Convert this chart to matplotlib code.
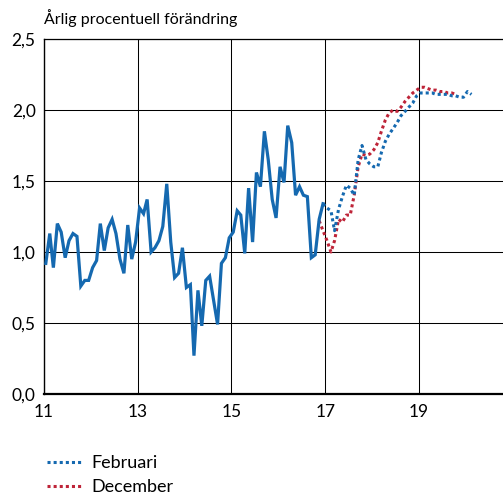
import matplotlib
matplotlib.use("Agg")
import matplotlib.pyplot as plt
import matplotlib.dates as mdates
from matplotlib.ticker import FuncFormatter
import pandas as pd

plt.rcParams['font.family'] = ['Lato', 'DejaVu Sans']

# utfall, månadsvärden från jan 2011
utfall = [0.92, 1.13, 0.89, 1.20, 1.14, 0.96, 1.08, 1.13, 1.11, 0.76,
          0.80, 0.80, 0.89, 0.94, 1.20, 1.01, 1.17, 1.23, 1.13, 0.95,
          0.85, 1.19, 0.95, 1.07, 1.31, 1.27, 1.37, 1.00, 1.03, 1.08,
          1.18, 1.48, 1.07, 0.82, 0.85, 1.03, 0.75, 0.77, 0.27, 0.73,
          0.48, 0.80, 0.83, 0.66, 0.49, 0.92, 0.96, 1.10, 1.14, 1.29,
          1.26, 0.99, 1.45, 1.07, 1.56, 1.46, 1.85, 1.65, 1.37, 1.24,
          1.60, 1.49, 1.89, 1.77, 1.40, 1.46, 1.40, 1.39, 0.96, 0.98,
          1.23, 1.34]
utfall_start = "2011-01"

# prognos februari, från dec 2016
februari = [1.34, 1.31, 1.29, 1.15, 1.30, 1.39, 1.47, 1.45, 1.40, 1.65,
            1.75, 1.65, 1.62, 1.60, 1.60, 1.70, 1.78, 1.83, 1.87, 1.91,
            1.96, 1.99, 2.02, 2.05, 2.10, 2.12, 2.12, 2.12, 2.12, 2.11,
            2.11, 2.11, 2.11, 2.10, 2.10, 2.09, 2.09, 2.13, 2.11]
februari_start = "2016-12"

# prognos december, från nov 2016
december = [1.22, 1.15, 1.08, 1.00, 1.08, 1.23, 1.21, 1.26, 1.26, 1.40,
            1.60, 1.69, 1.68, 1.69, 1.72, 1.77, 1.85, 1.93, 1.98, 2.00,
            1.99, 2.02, 2.06, 2.09, 2.12, 2.14, 2.16, 2.16, 2.15, 2.14,
            2.14, 2.13, 2.13, 2.12, 2.12, 2.11]
december_start = "2016-11"

yticks = [0.0, 0.5, 1.0, 1.5, 2.0, 2.5]
xtick_years = [2011, 2013, 2015, 2017, 2019]

blue = "#1569b0"
red = "#be2438"

def months(start, n):
    # mitten av varje månad
    return pd.date_range(start, periods=n, freq="MS") + pd.Timedelta(days=14)

fig = plt.figure(figsize=(5.03, 4.94), dpi=100)
ax = fig.add_axes([44 / 503, 100 / 494, 459 / 503, 355 / 494])

ax.plot(months(december_start, len(december)), december, color=red,
        lw=2.2, linestyle=(0, (1, 1)), label="December", zorder=3)
ax.plot(months(februari_start, len(februari)), februari, color=blue,
        lw=2.2, linestyle=(0, (1, 1)), label="Februari", zorder=4)
ax.plot(months(utfall_start, len(utfall)), utfall, color=blue,
        lw=2.3, solid_joinstyle="miter", zorder=5)

ax.set_ylim(0, 2.5)
ax.set_xlim(pd.Timestamp("2011-01-01"), pd.Timestamp("2020-10-18"))
ax.set_yticks(yticks)
ax.yaxis.set_major_formatter(FuncFormatter(lambda v, p: f"{v:.1f}".replace(".", ",")))
ax.set_xticks([pd.Timestamp(f"{y}-01-01") for y in xtick_years])
ax.xaxis.set_major_formatter(mdates.DateFormatter("%y"))

ax.grid(True, color="black", lw=0.75)
ax.set_axisbelow(True)
for s in ["top", "right"]:
    ax.spines[s].set_visible(False)
ax.spines["left"].set_linewidth(1.0)
ax.spines["bottom"].set_linewidth(1.6)
ax.axhline(2.5, color="black", lw=0.9, clip_on=False)
ax.tick_params(axis="both", length=0, labelsize=12.5, colors="black")
ax.tick_params(axis="y", pad=6)
ax.tick_params(axis="x", pad=7)

fig.text(44 / 503, 1 - 18 / 494, "Årlig procentuell förändring",
         fontsize=11.5, va="center", ha="left")

handles, labels = ax.get_legend_handles_labels()
fig.legend(handles[::-1], labels[::-1], loc="upper left",
           bbox_to_anchor=(47 / 503, 1 - 455 / 494), frameon=False,
           borderpad=0, borderaxespad=0,
           fontsize=13, handlelength=1.95, handletextpad=0.5,
           labelspacing=0.45)

fig.savefig("out.png", dpi=100)
